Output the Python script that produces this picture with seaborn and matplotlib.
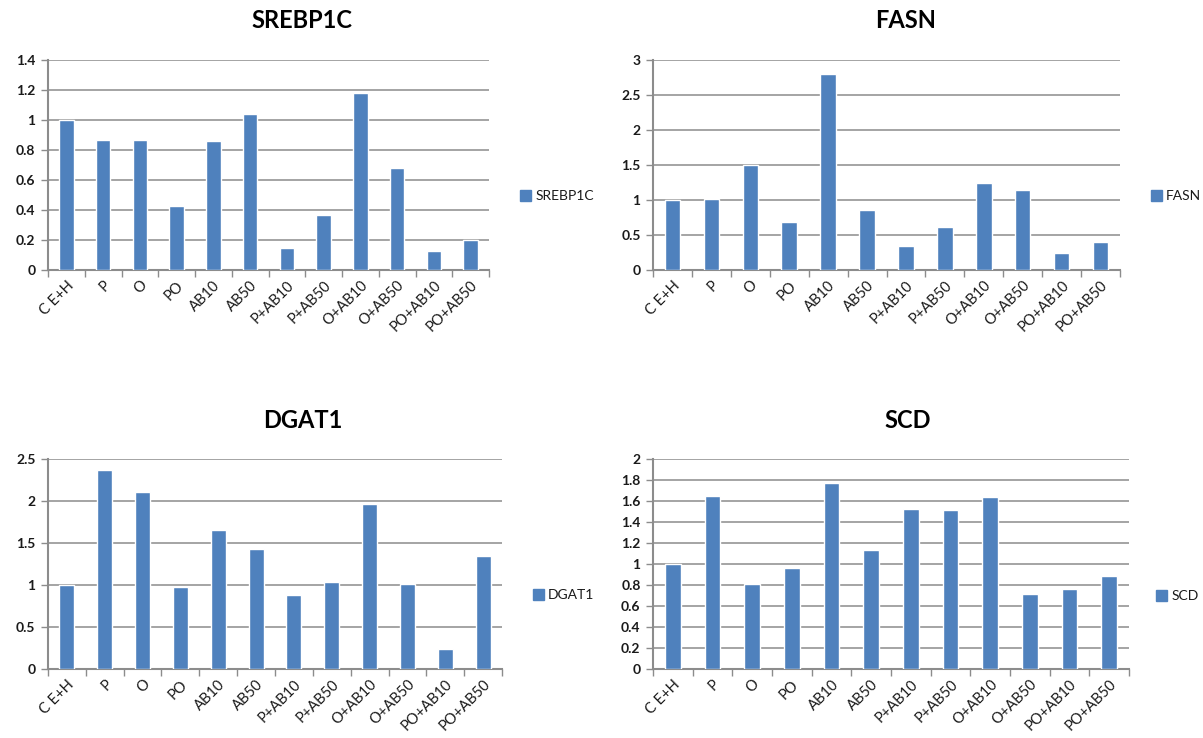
import matplotlib
matplotlib.use("Agg")
import matplotlib.pyplot as plt
import seaborn as sns
import pandas as pd
import numpy as np
from matplotlib.patches import Patch

# Treatment groups on the x axis
groups = ["C E+H", "P", "O", "PO", "AB10", "AB50", "P+AB10", "P+AB50",
          "O+AB10", "O+AB50", "PO+AB10", "PO+AB50"]

# Relative expression per gene
srebp1c = [1.00, 0.87, 0.87, 0.43, 0.86, 1.04, 0.15, 0.37, 1.18, 0.68, 0.13, 0.20]
fasn = [1.00, 1.01, 1.50, 0.68, 2.80, 0.86, 0.35, 0.61, 1.25, 1.15, 0.25, 0.40]
dgat1 = [1.00, 2.37, 2.11, 0.98, 1.65, 1.43, 0.88, 1.04, 1.97, 1.01, 0.24, 1.34]
scd = [1.00, 1.65, 0.81, 0.96, 1.77, 1.13, 1.52, 1.51, 1.64, 0.71, 0.76, 0.89]

# Axis limits and tick steps
srebp1c_ticks = [0, 0.2, 0.4, 0.6, 0.8, 1, 1.2, 1.4]
fasn_ticks = [0, 0.5, 1, 1.5, 2, 2.5, 3]
dgat1_ticks = [0, 0.5, 1, 1.5, 2, 2.5]
scd_ticks = [0, 0.2, 0.4, 0.6, 0.8, 1, 1.2, 1.4, 1.6, 1.8, 2]

sns.set_theme(style="white")
plt.rcParams["font.family"] = ["Lato", "DejaVu Sans"]

W, H = 1203, 738
fig = plt.figure(figsize=(W / 100, H / 100), dpi=100)
fig.patch.set_facecolor("white")

BAR = "#4f81bd"
GRID = "#8c8c8c"
TEXT = "#1a1a1a"


def px_axes(left, top, right, bottom):
    return fig.add_axes([left / W, 1 - bottom / H, (right - left) / W, (bottom - top) / H])


panels = [
    ("SREBP1C", srebp1c, srebp1c_ticks, (48, 60, 489, 270), (519, 196), 302, 21),
    ("FASN", fasn, fasn_ticks, (653, 60, 1120, 270), (1150, 196), 906, 21),
    ("DGAT1", dgat1, dgat1_ticks, (48, 459, 502, 669), (532, 595), 303, 420),
    ("SCD", scd, scd_ticks, (653, 459, 1129, 669), (1155, 596), 908, 420),
]

for name, values, ticks, box, leg_xy, tx, ty in panels:
    ax = px_axes(*box)
    df = pd.DataFrame({"group": groups, "value": values})
    sns.barplot(data=df, x="group", y="value", color=BAR, width=0.4,
                saturation=1, ax=ax, zorder=3)
    n = len(groups)
    ax.set_xlim(-0.5, n - 0.5)
    ax.set_ylim(ticks[0], ticks[-1])
    ax.set_yticks(ticks)
    ax.set_yticklabels([f"{t:g}" for t in ticks], fontsize=10, color=TEXT,
                       fontweight="bold")
    ax.set_xticks(range(n))
    ax.set_xticklabels(groups, rotation=45, ha="right", rotation_mode="anchor",
                       fontsize=10.5, color=TEXT)
    ax.set_xticks(np.arange(-0.5, n, 1.0), minor=True)
    ax.tick_params(axis="x", which="major", length=0, pad=6)
    ax.tick_params(axis="x", which="minor", length=5, width=1, color=GRID,
                   direction="out", bottom=True)
    ax.tick_params(axis="y", which="major", length=5, width=1, color=GRID,
                   direction="out", left=True, pad=4)
    ax.set_xlabel("")
    ax.set_ylabel("")
    ax.yaxis.grid(True, color=GRID, linewidth=1.1, zorder=0)
    ax.set_axisbelow(True)
    for side in ("top", "right"):
        ax.spines[side].set_visible(False)
    ax.spines["left"].set_color(GRID)
    ax.spines["left"].set_linewidth(1.5)
    ax.spines["bottom"].set_color(GRID)
    ax.spines["bottom"].set_linewidth(1.5)

    # legend to the right of the plot
    handle = Patch(facecolor=BAR, edgecolor=BAR)
    lx, ly = leg_xy
    fig.legend([handle], [name], loc="center left",
               bbox_to_anchor=((lx - 6) / W, 1 - ly / H),
               frameon=False, fontsize=10, handlelength=0.8, handleheight=0.8,
               handletextpad=0.3, borderpad=0, labelcolor=TEXT)

    fig.text(tx / W, 1 - ty / H, name, ha="center", va="center",
             fontsize=17, fontweight="bold", color="black")

fig.savefig("out.png", dpi=100, facecolor="white")
